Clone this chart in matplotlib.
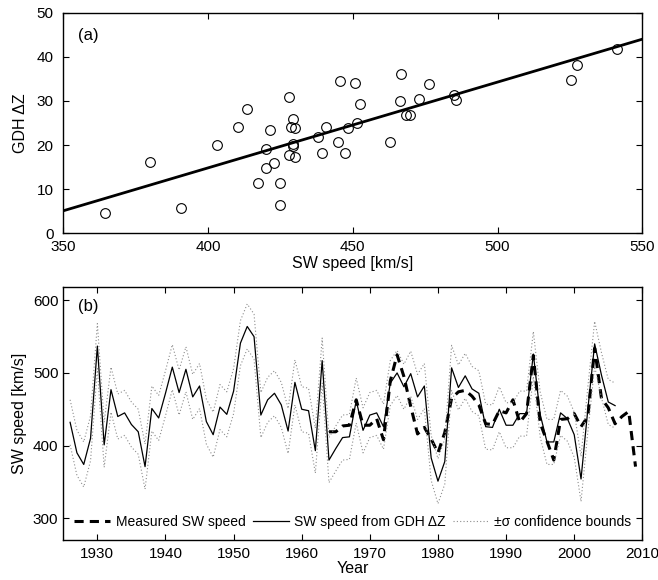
import numpy as np
import matplotlib
matplotlib.use("Agg")
import matplotlib.pyplot as plt

plt.rcParams['font.family'] = ['Liberation Sans', 'DejaVu Sans']

# ---- panel (a): SW speed vs GDH dZ ----
sw_speed = [364.4, 379.8, 390.6, 403.1, 410.4, 413.3, 417.2, 420.0, 420.0, 421.5,
            422.8, 424.9, 424.9, 428.0, 428.0, 429.4, 428.8, 429.9, 429.4, 429.4,
            429.9, 438.0, 439.4, 440.8, 444.8, 445.4, 447.2, 448.4, 450.9, 451.3,
            452.6, 462.8, 466.6, 466.3, 468.2, 469.7, 472.7, 476.4, 485.1, 485.6,
            525.3, 527.3, 541.3]
gdh_dz = [4.5, 16.2, 5.8, 19.9, 24.1, 28.1, 11.3, 19.0, 14.9, 23.5,
          15.9, 11.3, 6.4, 30.9, 17.8, 25.8, 24.1, 23.9, 20.2, 19.8,
          17.4, 21.9, 18.3, 24.1, 20.8, 34.5, 18.1, 23.9, 34.1, 25.1,
          29.2, 20.8, 36.0, 30.0, 26.9, 26.9, 30.4, 33.8, 31.3, 30.1,
          34.7, 38.1, 41.8]
fit_speed = [350, 550]
fit_dz = [5.1, 44.0]

# ---- panel (b): time series ----
recon_years = list(range(1926, 2007))
recon_speed = [432, 390, 374, 410, 537, 401, 477, 440, 445, 429,
               419, 371, 451, 438, 472, 508, 473, 505, 467, 482,
               433, 415, 453, 443, 475, 541, 564, 550, 442, 463,
               472, 456, 420, 487, 450, 448, 393, 517, 380, 396,
               411, 412, 462, 421, 442, 445, 426, 486, 500, 481,
               499, 467, 482, 383, 351, 378, 507, 480, 496, 478,
               472, 426, 425, 450, 428, 428, 444, 444, 526, 443,
               405, 405, 445, 437, 415, 354, 450, 540, 497, 460,
               455]
sigma = 31

meas_years = list(range(1964, 2010))
meas_speed = [419, 419, 427, 428, 463, 428, 428, 437, 408, 489,
              525, 495, 454, 416, 425, 409, 390, 418, 465, 474,
              476, 468, 456, 430, 429, 448, 445, 463, 432, 444,
              524, 431, 406, 380, 436, 437, 444, 426, 440, 534,
              465, 452, 430, 440, 447, 371]

fig = plt.figure(figsize=(6.58, 5.8), dpi=100)
ax1 = fig.add_axes([0.0962, 0.5978, 0.8800, 0.3803])
ax2 = fig.add_axes([0.0962, 0.0690, 0.8800, 0.4370])

for ax in (ax1, ax2):
    ax.tick_params(direction='in', top=True, right=True, labelsize=11,
                   length=4, width=0.8)
    ax.tick_params(axis='x', pad=5)
    for s in ax.spines.values():
        s.set_linewidth(1.0)
ax1.tick_params(axis='y', pad=7)

# (a)
ax1.plot(sw_speed, gdh_dz, 'o', mfc='none', mec='black', ms=7, mew=0.8)
ax1.plot(fit_speed, fit_dz, color='black', lw=2)
ax1.set_xlim(350, 550)
ax1.set_ylim(0, 50)
ax1.set_xticks([350, 400, 450, 500, 550])
ax1.set_yticks([0, 10, 20, 30, 40, 50])
ax1.set_xlabel('SW speed [km/s]', fontsize=11.5, labelpad=1)
ax1.set_ylabel('GDH ΔZ', fontsize=11.5, labelpad=6)
ax1.text(0.025, 0.93, '(a)', transform=ax1.transAxes, fontsize=12, va='top')

# (b)
recon = np.array(recon_speed)
ax2.plot(meas_years, meas_speed, color='black', lw=2.2, ls=(0, (3, 2)),
         label='Measured SW speed')
ax2.plot(recon_years, recon_speed, color='black', lw=0.9,
         label='SW speed from GDH ΔZ')
ax2.plot(recon_years, recon + sigma, color='0.55', lw=0.8, ls=(0, (1, 2)),
         label='±σ confidence bounds')
ax2.plot(recon_years, recon - sigma, color='0.55', lw=0.8, ls=(0, (1, 2)))
ax2.set_xlim(1925, 2010)
ax2.set_ylim(270, 619)
ax2.set_xticks(range(1930, 2011, 10))
ax2.set_yticks([300, 400, 500, 600])
ax2.set_xlabel('Year', fontsize=11.5, labelpad=0)
ax2.set_ylabel('SW speed [km/s]', fontsize=11.5, labelpad=4)
ax2.text(0.025, 0.95, '(b)', transform=ax2.transAxes, fontsize=12, va='top')
ax2.legend(loc='lower center', bbox_to_anchor=(0.5, 0.02), ncol=3,
           frameon=False, fontsize=10, handlelength=2.6, columnspacing=0.5,
           handletextpad=0.4, borderaxespad=0)

fig.savefig('out.png', dpi=100)
